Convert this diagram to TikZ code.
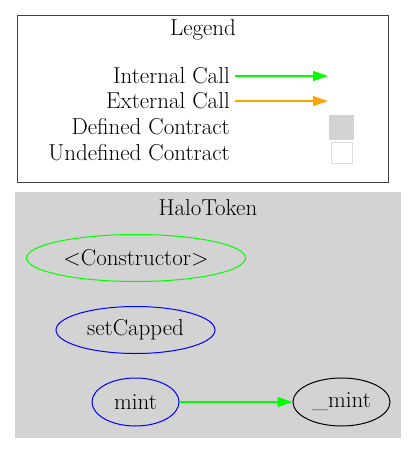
\documentclass[tikz,border=0pt]{standalone}
\usetikzlibrary{arrows.meta,shapes.geometric}
\definecolor{callgreen}{RGB}{0,255,0}
\definecolor{callorange}{RGB}{255,165,0}
\definecolor{halogray}{RGB}{211,211,211}
\begin{document}
\begin{tikzpicture}[x=1pt,y=-1pt,
    every node/.style={font=\fontsize{23}{27}\selectfont},
    func/.style={ellipse,draw,line width=1pt,inner sep=0pt},
    call/.style={line width=1.2pt,-{Triangle[length=15pt,width=10pt]}}]
    \useasboundingbox (0,0) rectangle (417,453);
    % legend
    \draw[line width=1pt,black!75] (17,15) rectangle (388,182);
    \node (legend) at (203,30) {Legend};
    \node[anchor=east,inner sep=0pt] (internal) at (230,76) {Internal Call};
    \node[anchor=east,inner sep=0pt] (external) at (230,101) {External Call};
    \node[anchor=east,inner sep=0pt] (defined) at (230,127) {Defined Contract};
    \node[anchor=east,inner sep=0pt] (undefined) at (230,153) {Undefined Contract};
    \coordinate (internalend) at (328,76);
    \coordinate (externalend) at (328,101);
    \draw[call,callgreen] ([xshift=5pt]internal.east) -- (internalend);
    \draw[call,callorange] ([xshift=5pt]external.east) -- (externalend);
    \node[fill=halogray,minimum size=25pt,inner sep=0pt] (definedbox) at (341.5,127.5) {};
    \node[draw=black!13,line width=1pt,minimum size=21pt,inner sep=0pt] (undefinedbox) at (341.5,153) {};
    % HaloToken cluster
    \fill[halogray] (15,192) rectangle (401,438);
    \node (halotoken) at (208,208) {HaloToken};
    \node[func,callgreen,text=black,minimum width=219pt,minimum height=47pt] (constructor) at (136,258) {<Constructor>};
    \node[func,blue,text=black,minimum width=159pt,minimum height=47pt] (setcapped) at (135.5,330) {setCapped};
    \node[func,blue,text=black,minimum width=87pt,minimum height=48pt] (mint) at (135.5,402) {mint};
    \node[func,black,minimum width=97pt,minimum height=48pt] (_mint) at (341.5,402) {\_mint};
    \draw[call,callgreen] (mint) -- (_mint);
\end{tikzpicture}
\end{document}
